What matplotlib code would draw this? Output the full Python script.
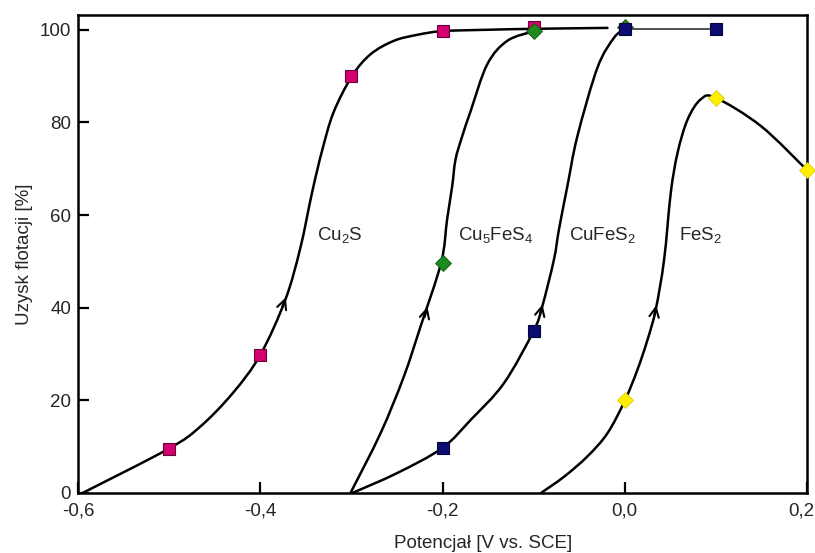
import matplotlib
matplotlib.use("Agg")
import matplotlib.pyplot as plt
from matplotlib.path import Path
from matplotlib.patches import PathPatch
from matplotlib.transforms import ScaledTranslation

plt.rcParams['font.family'] = ['Liberation Sans', 'DejaVu Sans']
plt.rcParams['mathtext.fontset'] = 'custom'
plt.rcParams['mathtext.rm'] = 'Liberation Sans'
plt.rcParams['mathtext.default'] = 'regular'

# measured points (potential V vs SCE, flotation recovery %)
cu2s_x = [-0.5, -0.4, -0.3, -0.2, -0.1]
cu2s_y = [9.5, 29.8, 90.0, 99.7, 100.5]
cu5fes4_x = [-0.2, -0.1, 0.0]
cu5fes4_y = [49.7, 99.7, 100.6]
cufes2_x = [-0.2, -0.1, 0.0, 0.1]
cufes2_y = [9.7, 34.9, 100.1, 100.1]
fes2_x = [0.0, 0.1, 0.2]
fes2_y = [20.0, 85.3, 69.7]

# hand-drawn curves through the points
cu2s_cx = [-0.595, -0.501, -0.466, -0.430, -0.400, -0.3725, -0.356,
           -0.343, -0.332, -0.3195, -0.2993, -0.279, -0.2535,
           -0.2278, -0.2003, -0.15, -0.1, -0.019]
cu2s_cy = [0.0, 9.5, 14.3, 21.6, 29.8, 41.7, 52.9,
           65.0, 74.0, 82.2, 90.0, 94.7, 97.6,
           98.9, 99.7, 100.0, 100.2, 100.4]
cu5fes4_cx = [-0.301, -0.268, -0.2425, -0.224, -0.2014, -0.195, -0.1894,
              -0.1857, -0.1784, -0.1692, -0.151, -0.129, -0.0997]
cu5fes4_cy = [0.0, 12.9, 25.1, 36.0, 49.8, 59.0, 66.2,
              72.0, 77.0, 82.4, 92.5, 97.6, 99.7]
cufes2_cx = [-0.299, -0.2498, -0.2003, -0.169, -0.1326, -0.1, -0.0905,
             -0.0777, -0.0722, -0.063, -0.052, -0.03, -0.0117, 0.0]
cufes2_cy = [0.0, 4.3, 9.7, 15.8, 23.7, 35.0, 40.3,
             50.4, 56.9, 66.2, 77.0, 91.8, 98.3, 100.1]
cufes2_px = [0.0, 0.1]
cufes2_py = [100.1, 100.1]
fes2_cx = [-0.092, -0.0667, -0.041, -0.019, 0.0, 0.0139, 0.025, 0.034,
           0.0432, 0.0505, 0.0579, 0.0689, 0.0835, 0.1, 0.1495, 0.2]
fes2_cy = [0.0, 3.5, 7.9, 12.9, 19.9, 26.6, 33.1, 39.6,
           50.4, 64.8, 73.4, 80.6, 85.0, 85.3, 79.2, 69.7]

xticks = [-0.6, -0.4, -0.2, 0.0, 0.2]
xtick_labels = ['-0,6', '-0,4', '-0,2', '0,0', '0,2']
yticks = [0, 20, 40, 60, 80, 100]

txt = '#262626'


def smooth_path(xs, ys):
    # cubic Bezier segments through the traced points (Catmull-Rom handles)
    pts = list(zip(xs, ys))
    n = len(pts)
    verts = [pts[0]]
    codes = [Path.MOVETO]
    for i in range(n - 1):
        p0 = pts[max(i - 1, 0)]
        p1 = pts[i]
        p2 = pts[i + 1]
        p3 = pts[min(i + 2, n - 1)]
        c1 = (p1[0] + (p2[0] - p0[0]) / 6, p1[1] + (p2[1] - p0[1]) / 6)
        c2 = (p2[0] - (p3[0] - p1[0]) / 6, p2[1] - (p3[1] - p1[1]) / 6)
        verts += [c1, c2, p2]
        codes += [Path.CURVE4] * 3
    return Path(verts, codes)


fig = plt.figure(figsize=(8.15, 5.53), dpi=100)
ax = fig.add_axes([0.0957, 0.1085, 0.8945, 0.8645])

lw = 1.8
for cx, cy in [(cu2s_cx, cu2s_cy), (cu5fes4_cx, cu5fes4_cy),
               (cufes2_cx, cufes2_cy), (fes2_cx, fes2_cy)]:
    ax.add_patch(PathPatch(smooth_path(cx, cy), fill=False, edgecolor='k',
                           lw=lw, capstyle='round', zorder=2))
ax.plot(cufes2_px, cufes2_py, color='#222222', lw=1.1, zorder=2)

# direction arrows (tail -> tip)
arrows = [((-0.3762, 40.0), (-0.3720, 42.2)),
          ((-0.2195, 38.0), (-0.2165, 40.2)),
          ((-0.0930, 38.5), (-0.0902, 40.7)),
          ((0.0325, 38.3), (0.0345, 40.5))]
for tail, tip in arrows:
    ax.annotate('', xy=tip, xytext=tail,
                arrowprops=dict(arrowstyle='->', color='k', lw=1.5,
                                mutation_scale=17, shrinkA=0, shrinkB=0),
                zorder=3)

ax.plot(cu2s_x, cu2s_y, 's', ms=8, mfc='#d4006f', mec='#6a0035', mew=0.8, ls='none', zorder=4)
ax.plot(cu5fes4_x, cu5fes4_y, 'D', ms=8, mfc='#1d8a1d', mec='#0d5a0d', mew=0.6, ls='none', zorder=5)
ax.plot(cufes2_x, cufes2_y, 's', ms=8, mfc='#0c0c72', mec='#05053a', mew=0.8, ls='none', zorder=6)
ax.plot(fes2_x, fes2_y, 'D', ms=8.5, mfc='#ffee00', mec='#d6c400', mew=0.5, ls='none',
        zorder=5, clip_on=False)

lab_kw = dict(fontsize=13.5, color=txt, ha='left', va='baseline')
ax.text(-0.3374, 54.7, r'Cu$_2$S', **lab_kw)
ax.text(-0.1835, 54.7, r'Cu$_5$FeS$_4$', **lab_kw)
ax.text(-0.0615, 54.7, r'CuFeS$_2$', **lab_kw)
ax.text(0.0597, 54.7, r'FeS$_2$', **lab_kw)

ax.set_xlim(-0.6, 0.2)
ax.set_ylim(0, 103.2)
ax.set_xticks(xticks)
ax.set_xticklabels(xtick_labels)
ax.set_yticks(yticks)
ax.tick_params(direction='in', length=8, width=1.6, labelsize=13.5,
               labelcolor=txt, color='k')
ax.tick_params(axis='x', pad=7)
ax.tick_params(axis='y', pad=5)
for s in ax.spines.values():
    s.set_linewidth(1.8)
    s.set_color('k')

# keep the last tick label inside the figure edge
last = ax.get_xticklabels()[-1]
last.set_transform(last.get_transform() + ScaledTranslation(-6 / 100, 0, fig.dpi_scale_trans))

ax.set_xlabel('Potencjał [V vs. SCE]', fontsize=13.5, color=txt)
ax.xaxis.set_label_coords(0.556, -0.088)
ax.set_ylabel('Uzysk flotacji [%]', fontsize=13.5, color=txt, labelpad=5)

fig.savefig('out.png', dpi=100)
